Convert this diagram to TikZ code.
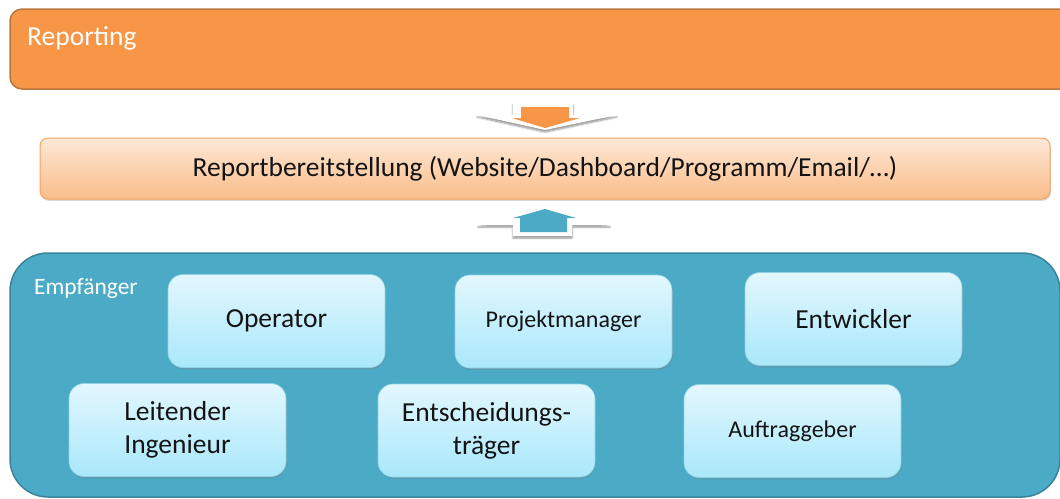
\documentclass[tikz,border=0pt]{standalone}
\usepackage{fontspec}
\setmainfont{Carlito}
\usetikzlibrary{shadows,shadows.blur}
\definecolor{repfill}{HTML}{F79646}
\definecolor{repdraw}{HTML}{B9763E}
\definecolor{provtop}{HTML}{FDE8D6}
\definecolor{provbot}{HTML}{FBBD8A}
\definecolor{provdraw}{HTML}{F7A35E}
\definecolor{recfill}{HTML}{4BAAC6}
\definecolor{recdraw}{HTML}{3A8499}
\definecolor{roletop}{HTML}{E3F7FE}
\definecolor{rolebot}{HTML}{A9E8FB}
\definecolor{roledraw}{HTML}{8FD2E6}
\definecolor{textdark}{HTML}{141414}
\tikzset{
  bigbox/.style={rounded corners=12pt, line width=1.5pt, inner sep=0pt},
  rolebox/.style={rounded corners=15pt, minimum width=217pt, minimum height=93pt,
    top color=roletop, bottom color=rolebot, draw=roledraw, line width=0.6pt,
    text=textdark, align=center, inner sep=0pt,
    drop shadow={opacity=0.35, shadow xshift=0.8pt, shadow yshift=-1.8pt}},
  bigtext/.style={font=\fontsize{27.5}{33}\selectfont},
  smalltext/.style={font=\fontsize{24}{28}\selectfont},
  whitearrow/.style={fill=white, blur shadow={shadow blur steps=6, shadow xshift=0pt,
    shadow yshift=-2pt, shadow opacity=45}},
}
\begin{document}
\begin{tikzpicture}[x=1pt,y=-1pt]
\useasboundingbox (0,0) rectangle (1060,498);

% top bar
\node[bigbox, fill=repfill, draw=repdraw, minimum width=1080pt, minimum height=80pt]
  (report) at (550,49) {};
\node[anchor=west, text=white, font=\fontsize{27.5}{32}\selectfont, inner sep=0pt]
  (reptitle) at (27,38) {Reporting};

% delivery bar
\node[rounded corners=8pt, minimum width=1010pt, minimum height=61pt,
  top color=provtop, bottom color=provbot, draw=provdraw, line width=1pt,
  text=textdark, font=\fontsize{27.5}{32}\selectfont,
  drop shadow={opacity=0.3, shadow xshift=0.8pt, shadow yshift=-1.8pt}]
  (prov) at (545,168.5) {Reportbereitstellung (Website/Dashboard/Programm/Email/…)};

% block arrow down
\path[whitearrow] (513,103) -- (573,103) -- (573,115) -- (617,115) -- (545,130)
  -- (477,115) -- (513,115) -- cycle;
\fill[repfill] (521,107) -- (569,107) -- (569,118) -- (580,118) -- (545,128)
  -- (512,118) -- (521,118) -- cycle;

% block arrow up
\path[whitearrow] (545,205) -- (610,225) -- (572,225) -- (572,236) -- (513,236)
  -- (513,225) -- (478,225) -- cycle;
\fill[recfill] (545,209) -- (576,218) -- (567,218) -- (567,232) -- (520,232)
  -- (520,218) -- (513,218) -- cycle;

% recipients panel
\node[bigbox, rounded corners=38pt, fill=recfill, draw=recdraw,
  minimum width=1050pt, minimum height=244pt] (empf) at (535,375) {};
\node[anchor=west, text=white, font=\fontsize{23.5}{28}\selectfont, inner sep=0pt]
  (emptitle) at (34,288) {Empfänger};

% roles
\node[rolebox, bigtext] (op)   at (276.5,321)  {Operator};
\node[rolebox, smalltext] (pm) at (563.5,321.5) {Projektmanager};
\node[rolebox, bigtext] (ent)  at (853.5,319)  {Entwickler};
\node[rolebox, bigtext] (lead) at (177.5,430)  {Leitender\\Ingenieur};
\node[rolebox, bigtext] (dec)  at (486.5,430.5) {Entscheidungs-\\träger};
\node[rolebox, smalltext] (auf) at (792.5,431) {Auftraggeber};
\end{tikzpicture}
\end{document}
